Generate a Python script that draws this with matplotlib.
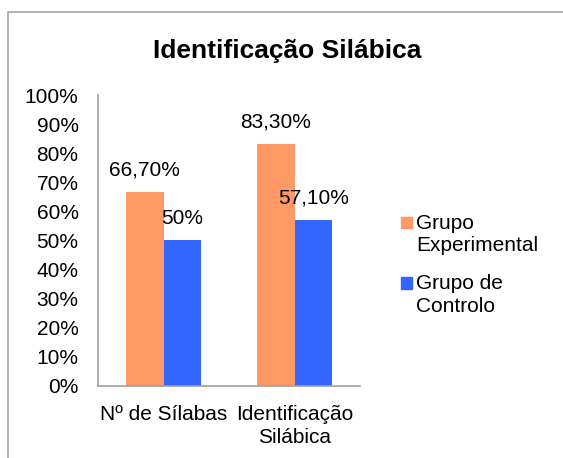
import matplotlib
matplotlib.use("Agg")
import matplotlib.pyplot as plt
from matplotlib.patches import Rectangle
import numpy as np

plt.rcParams["font.family"] = ["Liberation Sans", "DejaVu Sans"]

# data
categories = ["Nº de Sílabas", "Identificação\nSilábica"]
series_names = ["Grupo\nExperimental", "Grupo de\nControlo"]
experimental = [66.7, 83.3]
controlo = [50.0, 57.1]
label_text_exp = ["66,70%", "83,30%"]
label_text_ctl = ["50%", "57,10%"]
colors = ["#FF9966", "#3366FF"]

W, H = 563, 458
fig = plt.figure(figsize=(W / 100, H / 100), dpi=100)

# chart border (clipped at right/bottom like the original)
fig.patches.append(Rectangle((8 / W, -0.1), 1.2, 1.1 - 12 / H,
                             transform=fig.transFigure, fill=False,
                             edgecolor="#A6A6A6", linewidth=1.2))

ax = fig.add_axes([98 / W, 1 - 385.7 / H, 262 / W, 290.7 / H])

x = np.arange(len(categories))
bw = 0.285
b1 = ax.bar(x - bw / 2, experimental, bw, color=colors[0])
b2 = ax.bar(x + bw / 2, controlo, bw, color=colors[1])
ax.bar_label(b1, labels=label_text_exp, padding=9, fontsize=15)
ax.bar_label(b2, labels=label_text_ctl, padding=9, fontsize=15)

ax.set_xlim(-0.5, 1.5)
ax.set_ylim(0, 100)
ax.set_yticks(np.arange(0, 101, 10))
ax.set_yticklabels([f"{v}%" for v in range(0, 101, 10)], fontsize=15)
ax.set_xticks(x)
ax.set_xticklabels(categories, fontsize=15, linespacing=1.25)
ax.tick_params(axis="y", length=0, pad=14)
ax.tick_params(axis="x", length=0, pad=14)
for s in ["top", "right"]:
    ax.spines[s].set_visible(False)
for s in ["left", "bottom"]:
    ax.spines[s].set_color("#A0A0A0")
    ax.spines[s].set_linewidth(1.2)

fig.text(287 / W, 1 - 51 / H, "Identificação Silábica", fontsize=19,
         fontweight="bold", ha="center", va="center")

# legend
leg_y = [216.7, 277.0]
for name, col, yy in zip(series_names, colors, leg_y):
    fig.patches.append(Rectangle((400.7 / W, 1 - (yy + 11.5) / H), 11.5 / W, 11.5 / H,
                                 transform=fig.transFigure, color=col))
    fig.text(416 / W, 1 - (yy - 3) / H, name, fontsize=15, ha="left", va="top",
             linespacing=1.25)

fig.savefig("out.png", dpi=100)
